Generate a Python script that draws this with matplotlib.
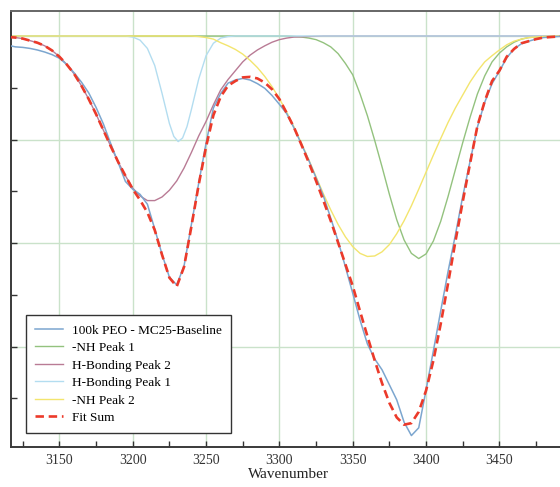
import matplotlib
matplotlib.use("Agg")
import matplotlib.pyplot as plt
from matplotlib.ticker import MultipleLocator, NullFormatter

# ---- data ----
wavenumber = [3115, 3120, 3125, 3130, 3135, 3140, 3145, 3150, 3155, 3160,
              3165, 3170, 3175, 3180, 3185, 3190, 3195, 3200, 3205, 3210,
              3215, 3220, 3225, 3230, 3235, 3240, 3245, 3250, 3255, 3260,
              3265, 3270, 3275, 3280, 3285, 3290, 3295, 3300, 3305, 3310,
              3315, 3320, 3325, 3330, 3335, 3340, 3345, 3350, 3355, 3360,
              3365, 3370, 3375, 3380, 3385, 3390, 3395, 3400, 3405, 3410,
              3415, 3420, 3425, 3430, 3435, 3440, 3445, 3450, 3455, 3460,
              3465, 3470, 3475, 3480, 3485, 3490, 3495]
data = [0.982, 0.979, 0.978, 0.976, 0.973, 0.969, 0.964, 0.957, 0.945, 0.929,
        0.911, 0.890, 0.862, 0.830, 0.792, 0.756, 0.719, 0.704, 0.694, 0.675,
        0.627, 0.578, 0.534, 0.519, 0.556, 0.636, 0.716, 0.793, 0.861, 0.889,
        0.909, 0.915, 0.918, 0.915, 0.908, 0.899, 0.885, 0.868, 0.850, 0.822,
        0.791, 0.760, 0.726, 0.691, 0.648, 0.604, 0.554, 0.503, 0.451, 0.405,
        0.376, 0.355, 0.326, 0.297, 0.254, 0.228, 0.243, 0.316, 0.392, 0.469,
        0.545, 0.616, 0.690, 0.758, 0.824, 0.872, 0.908, 0.932, 0.958, 0.975,
        0.985, 0.990, 0.994, 0.997, 0.998, 0.999, 1.000]
fit = [0.998, 0.997, 0.995, 0.991, 0.987, 0.981, 0.972, 0.960, 0.945, 0.927,
       0.904, 0.878, 0.849, 0.818, 0.787, 0.757, 0.730, 0.704, 0.683, 0.659,
       0.625, 0.577, 0.533, 0.516, 0.554, 0.632, 0.713, 0.786, 0.847, 0.883,
       0.904, 0.913, 0.920, 0.921, 0.918, 0.910, 0.897, 0.878, 0.851, 0.823,
       0.790, 0.756, 0.720, 0.682, 0.643, 0.601, 0.559, 0.517, 0.468, 0.420,
       0.373, 0.329, 0.291, 0.263, 0.249, 0.252, 0.274, 0.315, 0.373, 0.444,
       0.522, 0.603, 0.680, 0.754, 0.826, 0.874, 0.913, 0.933, 0.960, 0.975,
       0.986, 0.990, 0.994, 0.997, 0.998, 0.999, 1.000]

wn_nh1 = [3115, 3300, 3305, 3310, 3315, 3320, 3325, 3330, 3335, 3340,
          3345, 3350, 3355, 3360, 3365, 3370, 3375, 3380, 3385, 3390,
          3395, 3400, 3405, 3410, 3415, 3420, 3425, 3430, 3435, 3440,
          3445, 3450, 3455, 3460, 3465, 3470, 3475, 3480, 3490, 3495]
nh1 = [1.000, 1.000, 1.000, 0.999, 0.998, 0.996, 0.993, 0.987, 0.979, 0.966,
       0.947, 0.925, 0.888, 0.846, 0.798, 0.747, 0.694, 0.645, 0.606, 0.580,
       0.570, 0.579, 0.604, 0.642, 0.690, 0.742, 0.794, 0.843, 0.888, 0.923,
       0.950, 0.967, 0.979, 0.988, 0.994, 0.997, 0.998, 0.999, 1.000, 1.000]

wn_hb2 = [3115, 3120, 3125, 3130, 3135, 3140, 3145, 3150, 3155, 3160,
          3165, 3170, 3175, 3180, 3185, 3190, 3195, 3200, 3205, 3210,
          3215, 3220, 3225, 3230, 3235, 3240, 3245, 3250, 3255, 3260,
          3265, 3270, 3275, 3280, 3285, 3290, 3295, 3300, 3305, 3310,
          3320, 3330, 3495]
hb2 = [0.998, 0.997, 0.995, 0.991, 0.987, 0.981, 0.972, 0.960, 0.945, 0.927,
       0.904, 0.878, 0.849, 0.818, 0.787, 0.757, 0.730, 0.706, 0.691, 0.682,
       0.682, 0.689, 0.702, 0.720, 0.745, 0.775, 0.807, 0.835, 0.867, 0.896,
       0.916, 0.933, 0.950, 0.963, 0.973, 0.981, 0.988, 0.993, 0.996, 0.998,
       0.999, 1.000, 1.000]

wn_hb1 = [3115, 3195, 3200, 3205, 3210, 3215, 3220, 3225, 3228, 3231,
          3234, 3237, 3240, 3245, 3250, 3255, 3260, 3265, 3270, 3495]
hb1 = [1.000, 1.000, 0.998, 0.992, 0.976, 0.943, 0.889, 0.831, 0.806, 0.796,
       0.803, 0.825, 0.858, 0.917, 0.962, 0.986, 0.996, 0.999, 1.000, 1.000]

wn_nh2 = [3115, 3240, 3245, 3250, 3255, 3260, 3265, 3270, 3275, 3280,
          3285, 3290, 3295, 3300, 3305, 3310, 3315, 3320, 3325, 3330,
          3335, 3340, 3345, 3350, 3355, 3360, 3365, 3370, 3375, 3380,
          3385, 3390, 3395, 3400, 3405, 3410, 3415, 3420, 3425, 3430,
          3435, 3440, 3445, 3450, 3455, 3460, 3465, 3470, 3475, 3480,
          3490, 3495]
nh2 = [1.000, 1.000, 0.999, 0.997, 0.994, 0.987, 0.981, 0.974, 0.965, 0.953,
       0.939, 0.922, 0.902, 0.879, 0.853, 0.824, 0.793, 0.761, 0.728, 0.695,
       0.664, 0.636, 0.612, 0.593, 0.580, 0.574, 0.575, 0.583, 0.597, 0.618,
       0.643, 0.672, 0.704, 0.737, 0.770, 0.802, 0.833, 0.861, 0.886, 0.911,
       0.932, 0.950, 0.962, 0.973, 0.983, 0.990, 0.994, 0.997, 0.998, 0.999,
       1.000, 1.000]

labels = ["100k PEO - MC25-Baseline", "-NH Peak 1", "H-Bonding Peak 2",
          "H-Bonding Peak 1", "-NH Peak 2", "Fit Sum"]
x_ticks = [3150, 3200, 3250, 3300, 3350, 3400, 3450]

# ---- styling ----
plt.rcParams['font.family'] = ['Liberation Serif', 'DejaVu Serif']

fig = plt.figure(figsize=(5.6, 4.87), dpi=100)
ax = fig.add_axes([11/560, 40/487, (565.4-11)/560, 436/487])

grid_c = '#cae2ca'
ax.set_axisbelow(True)

ax.plot(wavenumber, data, color='#7ca6cf', lw=1.1, label=labels[0], zorder=3)
ax.plot(wn_nh1, nh1, color='#93c27e', lw=1.0, label=labels[1], zorder=2)
ax.plot(wn_hb2, hb2, color='#b97b95', lw=1.0, label=labels[2], zorder=2)
ax.plot(wn_hb1, hb1, color='#b3ddf0', lw=1.0, label=labels[3], zorder=2)
ax.plot(wn_nh2, nh2, color='#f3e56e', lw=1.0, label=labels[4], zorder=2)
ax.plot(wavenumber, fit, color='#ec3a2a', lw=1.9, ls=(0, (3.2, 1.8)),
        label=labels[5], zorder=4)

ax.set_xlim(3117.0, 3495)
ax.set_ylim(0.2059, 1.0483)

ax.set_xticks(x_ticks)
ax.xaxis.set_minor_locator(MultipleLocator(25))
ax.set_yticks([0.4, 0.6, 0.8, 1.0])
ax.yaxis.set_minor_locator(MultipleLocator(0.1))
ax.yaxis.set_major_formatter(NullFormatter())

ax.grid(True, which='major', color=grid_c, lw=1.0)
ax.tick_params(axis='both', which='both', direction='in', color='#333333')
ax.tick_params(axis='both', which='major', length=4, width=1.0)
ax.tick_params(axis='both', which='minor', length=4, width=1.0)
ax.tick_params(axis='x', labelsize=10, pad=5, labelcolor='#333333')

for s in ax.spines.values():
    s.set_color('#3a3a3a')
    s.set_linewidth(1.4)
ax.spines['top'].set_color('#666666')

ax.set_xlabel("Wavenumber", fontsize=11, labelpad=0.5, color='#222222')

leg = ax.legend(loc='lower left', bbox_to_anchor=(0.0265, 0.0314),
                borderaxespad=0, fontsize=9.5, frameon=True, fancybox=False,
                labelspacing=0.4, handlelength=2.1, handletextpad=0.7,
                borderpad=0.7)
leg.get_frame().set_edgecolor('#333333')
leg.get_frame().set_linewidth(1.0)
leg.get_frame().set_alpha(1.0)

fig.savefig("out.png", dpi=100)
